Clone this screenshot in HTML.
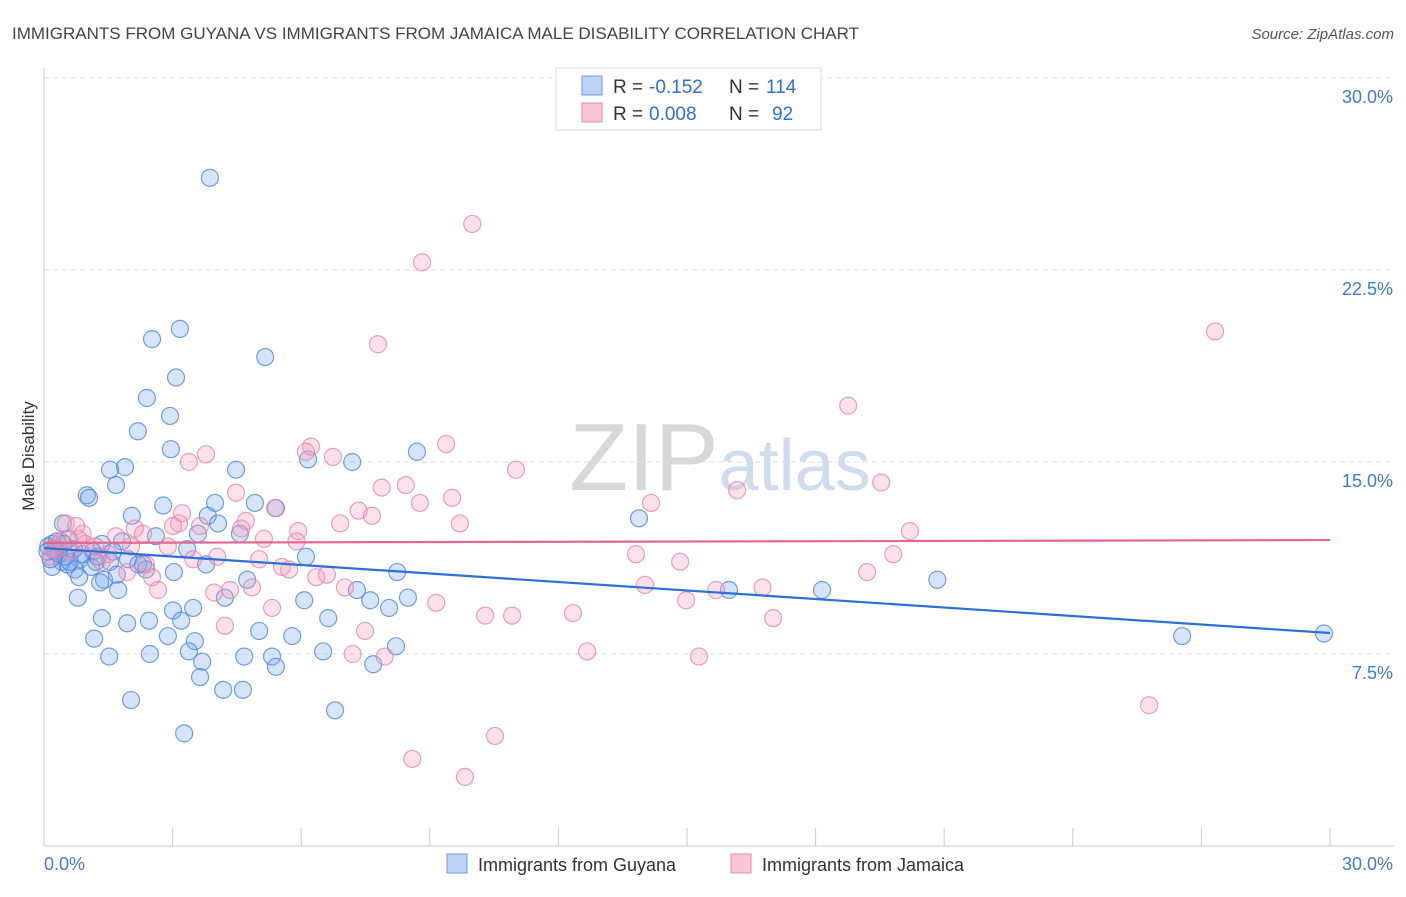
<!DOCTYPE html>
<html><head><meta charset="utf-8"><style>
body{margin:0;background:#fff;font-family:"Liberation Sans",sans-serif;}
svg text{font-family:"Liberation Sans",sans-serif;}
</style></head><body>
<svg id="chart" width="1406" height="892" xmlns="http://www.w3.org/2000/svg">
<text x="12" y="39" font-size="17" fill="#444">IMMIGRANTS FROM GUYANA VS IMMIGRANTS FROM JAMAICA MALE DISABILITY CORRELATION CHART</text>
<text x="1394" y="39" font-size="15" fill="#555" text-anchor="end" font-style="italic">Source: ZipAtlas.com</text>
<text x="720" y="490" font-size="96" fill="#ddd" text-anchor="middle" font-family="Liberation Serif"><tspan fill="#d8d8d8">ZIP</tspan><tspan font-family="Liberation Sans" font-size="72" fill="#cfdcef">atlas</tspan></text>
<g id="grid"></g>
<g id="axes"></g>
<g id="pts"></g>
<g id="trend"></g>
<text transform="translate(34,456) rotate(-90)" font-size="17" fill="#333" text-anchor="middle">Male Disability</text>
<g>
<rect x="556" y="68" width="265" height="62" fill="#fff" stroke="#ddd"/>
<rect x="582" y="76" width="20" height="19" fill="#bcd3f5" stroke="#6a9be0"/>
<rect x="582" y="103" width="20" height="19" fill="#f9c6d5" stroke="#e88aa8"/>
<text x="613" y="93" font-size="19" fill="#333">R =</text>
<text x="649" y="93" font-size="19" fill="#2f6fd6">-0.152</text>
<text x="729" y="93" font-size="19" fill="#333">N =</text>
<text x="766" y="93" font-size="19" fill="#2f6fd6">114</text>
<text x="613" y="120" font-size="19" fill="#333">R =</text>
<text x="649" y="120" font-size="19" fill="#2f6fd6">0.008</text>
<text x="729" y="120" font-size="19" fill="#333">N =</text>
<text x="772" y="120" font-size="19" fill="#2f6fd6">92</text>
</g>
<g>
<rect x="447" y="854" width="20" height="19" fill="#bcd3f5" stroke="#6a9be0"/>
<text x="478" y="871" font-size="18" fill="#333">Immigrants from Guyana</text>
<rect x="731" y="854" width="20" height="19" fill="#f9c6d5" stroke="#e88aa8"/>
<text x="762" y="871" font-size="18" fill="#333">Immigrants from Jamaica</text>
</g>
</svg>
<script>
const yTicks=[7.5,15,22.5,30];
const yTickLabels=["7.5%","15.0%","22.5%","30.0%"];
const xTickLabels=["0.0%","30.0%"];
const guyanaX=[3.87,3.17,2.52,5.16,3.08,2.40,2.94,2.19,2.96,8.70,6.16,7.19,1.89,1.54,4.48,1.68,1.00,1.05,3.99,4.92,2.78,5.41,2.05,3.82,4.06,13.88,0.44,4.57,3.59,2.61,0.58,1.82,1.35,0.19,3.34,6.11,1.61,1.14,0.26,0.84,1.96,0.42,2.31,3.78,1.54,1.21,0.19,0.72,2.38,3.03,8.24,0.82,1.40,1.31,20.84,4.74,1.73,7.30,15.98,18.15,0.79,4.22,8.49,7.61,6.07,3.48,3.01,8.05,1.35,2.45,1.94,3.20,6.63,5.02,2.89,5.79,1.17,3.52,26.55,29.86,8.21,6.51,3.38,1.52,2.47,4.67,5.32,3.69,5.41,7.68,3.64,4.18,4.64,2.03,6.79,3.27,0.1,0.15,0.35,0.55,0.7,0.3,0.5,0.9,1.1,0.25,0.6,1.25,0.08,0.45,1.7,2.2];
const guyanaY=[26.1,20.2,19.8,19.1,18.3,17.5,16.8,16.2,15.5,15.4,15.1,15.0,14.8,14.7,14.7,14.1,13.7,13.6,13.4,13.4,13.3,13.2,12.9,12.9,12.6,12.8,12.6,12.2,12.2,12.1,12.0,11.9,11.8,11.8,11.6,11.3,11.5,11.5,11.5,11.2,11.2,11.1,11.0,11.0,11.1,11.1,10.9,10.8,10.8,10.7,10.7,10.5,10.4,10.3,10.4,10.4,10.0,10.0,10.0,10.0,9.7,9.7,9.7,9.6,9.6,9.3,9.2,9.3,8.9,8.8,8.7,8.8,8.9,8.4,8.2,8.2,8.1,8.0,8.2,8.3,7.8,7.6,7.6,7.4,7.5,7.4,7.4,7.2,7.0,7.1,6.6,6.1,6.1,5.7,5.3,4.4,11.7,11.2,11.4,11.0,11.6,11.9,11.3,11.4,10.9,11.6,11.1,11.3,11.5,11.8,10.6,11.0];
const jamaicaX=[9.99,8.82,27.32,7.79,18.76,9.38,6.23,6.11,6.74,3.78,3.38,11.01,19.53,7.88,8.44,4.48,16.17,9.52,8.77,14.16,7.34,5.39,3.22,7.65,6.91,9.70,4.71,3.15,3.01,0.51,0.75,2.12,3.64,5.93,20.20,4.60,2.31,1.68,5.13,5.89,0.33,0.96,2.89,2.03,13.81,19.81,4.04,3.48,5.02,14.84,2.38,1.35,5.55,5.72,1.94,19.20,6.60,6.35,2.52,7.02,14.02,16.76,15.68,4.85,2.66,3.97,4.34,14.98,9.15,5.32,10.29,10.92,12.34,17.01,4.22,7.49,12.67,7.20,15.28,7.95,25.78,10.52,8.59,9.82,0.2,0.4,0.6,0.9,1.2,0.15,1.5,0.8];
const jamaicaY=[24.3,22.8,20.1,19.6,17.2,15.7,15.6,15.4,15.2,15.3,15.0,14.7,14.2,14.0,14.1,13.8,13.9,13.6,13.4,13.4,13.1,13.2,13.0,12.9,12.6,12.6,12.7,12.6,12.5,12.6,12.5,12.4,12.5,12.3,12.3,12.4,12.2,12.1,12.0,11.9,11.8,11.8,11.7,11.7,11.4,11.4,11.3,11.2,11.2,11.1,11.0,11.1,10.9,10.8,10.7,10.7,10.6,10.5,10.5,10.1,10.2,10.1,10.0,10.1,10.0,9.9,10.0,9.6,9.5,9.3,9.0,9.0,9.1,8.9,8.6,8.4,7.6,7.5,7.4,7.4,5.5,4.3,3.4,2.7,11.6,11.9,11.5,12.2,11.7,11.3,11.4,12.0];
const guyanaTrend=[11.64,8.32];
const jamaicaTrend=[11.84,11.95];
const NS="http://www.w3.org/2000/svg";
const X0=44,X1=1330,YB=846,PXY=25.6;
const sx=v=>X0+(v/30)*(X1-X0);
const sy=v=>YB-v*PXY;
function mk(tag,attrs,parent){const e=document.createElementNS(NS,tag);for(const k in attrs)e.setAttribute(k,attrs[k]);parent.appendChild(e);return e;}
const grid=document.getElementById('grid'),axes=document.getElementById('axes'),pts=document.getElementById('pts'),trend=document.getElementById('trend');
yTicks.forEach((t,i)=>{
 const l=mk('line',{x1:X0,x2:1394,y1:sy(t),y2:sy(t),stroke:'#ddd','stroke-dasharray':'5,4'},grid);
 
 
 const tx=mk('text',{x:1393,y:sy(t)+25,'font-size':18,fill:'#3f7ad9','text-anchor':'end'},axes);
 tx.textContent=yTickLabels[i];
 
 
});
const ax=mk('line',{x1:X0,x2:X0,y1:68,y2:YB,stroke:'#ccc'},axes);


const bx=mk('line',{x1:X0,x2:1394,y1:YB,y2:YB,stroke:'#ccc'},axes);


for(let i=0;i<=10;i++){
 const t=mk('line',{x1:sx(i*3),x2:sx(i*3),y1:828,y2:YB,stroke:'#ccc'},axes);
 
 
}
[0,30].forEach((v,i)=>{
 const t=mk('text',{x:i?1393:44,y:870,'font-size':18,fill:'#3f7ad9','text-anchor':i?'end':'start'},axes);
 t.textContent=xTickLabels[i];
 
 
});
function series(xs,ys,fill,stroke,name){
 xs.forEach((x,i)=>{
  const c=mk('circle',{cx:sx(x),cy:sy(ys[i]),r:8.5,fill:fill,stroke:stroke,'stroke-width':1.2},pts);
  
  
 });
}
series(guyanaX,guyanaY,'rgba(120,165,235,0.3)','rgba(70,130,220,0.75)','guyana-point');
series(jamaicaX,jamaicaY,'rgba(245,155,185,0.3)','rgba(230,130,165,0.75)','jamaica-point');
const tb=mk('line',{x1:sx(0),y1:sy(guyanaTrend[0]),x2:sx(30),y2:sy(guyanaTrend[1]),stroke:'#2d6fd8','stroke-width':2.2},trend);


const tp=mk('line',{x1:sx(0),y1:sy(jamaicaTrend[0]),x2:sx(30),y2:sy(jamaicaTrend[1]),stroke:'#e2668f','stroke-width':2.2},trend);


</script>
</body></html>
